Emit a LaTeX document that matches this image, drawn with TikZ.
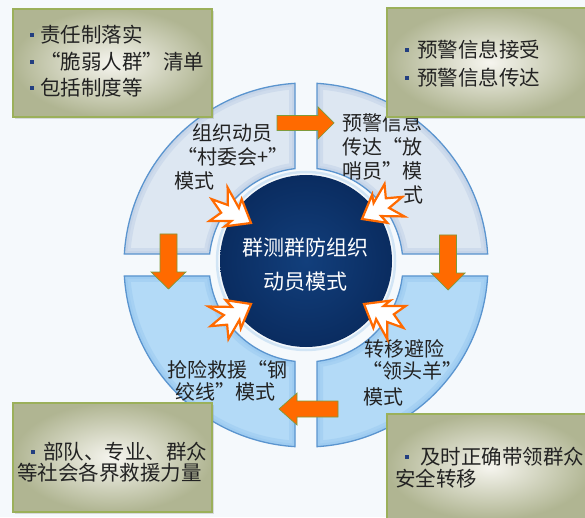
\documentclass[tikz,border=0pt]{standalone}
\usepackage{fontspec}
\setmainfont{Noto Sans CJK SC}
\usetikzlibrary{shadows}
\definecolor{bgc}{HTML}{F5F9FC}
\definecolor{qtop}{HTML}{DDE7F2}
\definecolor{qtoprim}{HTML}{B8CBE4}
\definecolor{qbot}{HTML}{B3DAF7}
\definecolor{qbotrim}{HTML}{93C5EE}
\definecolor{qborder}{HTML}{5B95CF}
\definecolor{navyin}{HTML}{123F7C}
\definecolor{navyout}{HTML}{0A2C60}
\definecolor{glow}{HTML}{A9CDEE}
\definecolor{orangec}{HTML}{FF6A00}
\definecolor{olivec}{HTML}{7F9A3C}
\definecolor{boxborder}{HTML}{9BB05A}
\definecolor{boxin}{HTML}{F6F5EF}
\definecolor{boxout}{HTML}{B0B592}
\definecolor{bulletc}{HTML}{233F80}
\definecolor{txt}{HTML}{222222}
\newcommand\qpath[1]{(#1+3.465:182) arc[start angle=#1+3.465, end angle=#1+86.535, radius=182] -- (#1+83.489:97) arc[start angle=#1+83.489, end angle=#1+6.511, radius=97] -- cycle}
\newcommand\quadrant[3]{%
  \begin{scope}
    \clip \qpath{#1};
    \fill[#2] (-200,-200) rectangle (200,200);
    \draw[#3, line width=12, opacity=0.4] \qpath{#1};
    \draw[#3, line width=6, opacity=0.4] \qpath{#1};
  \end{scope}
  \draw[qborder, line width=1.3] \qpath{#1};}
\newcommand\burst[2]{%
  \begin{scope}[shift={#1}, rotate=#2]
    \filldraw[burststyle] (0,0) -- (-20,16) -- (-18,7) -- (-38,19) -- (-29,4) -- (-46,1) -- (-31,-6) -- (-37,-19) -- (-18,-8) -- (-21,-16) -- cycle;
  \end{scope}}
\begin{document}
\begin{tikzpicture}[x=1pt,y=1pt,
  oarrow/.style={fill=orangec, draw=olivec, line width=0.7},
  burststyle/.style={fill=white, draw=orangec, line width=2.2, line join=miter},
  infobox/.style={draw=boxborder, line width=1.3, inner color=boxin, outer color=boxout, drop shadow={opacity=0.25, shadow xshift=2pt, shadow yshift=-2pt}},
  boxtxt/.style={font=\fontsize{20.5}{24}\selectfont, text=txt, anchor=west, inner sep=0pt},
  qtxt/.style={font=\fontsize{20}{24}\selectfont, text=txt, inner sep=0pt},
  ctxt/.style={font=\fontsize{21}{24}\selectfont, text=white, inner sep=0pt},
  bul/.style={fill=bulletc, minimum size=4pt, inner sep=0pt}]
\useasboundingbox (0,0) rectangle (585,517);
\fill[bgc] (0,0) rectangle (585,517);

% ring quadrants
\begin{scope}[shift={(306,252)}]
  \quadrant{90}{qtop}{qtoprim}
  \quadrant{0}{qtop}{qtoprim}
  \quadrant{180}{qbot}{qbotrim}
  \quadrant{270}{qbot}{qbotrim}
\end{scope}

% central circle
\node[circle, minimum size=178pt, draw=glow, line width=2.5, opacity=0.45] (halo) at (306,256) {};
\shade[inner color=navyin, outer color=navyout] (306,256) circle (86);
\node[ctxt] (c1) at (305,269) {群测群防组织};
\node[ctxt] (c2) at (305,235) {动员模式};

% quadrant texts
\node[qtxt] (t1) at (232,384) {组织动员};
\node[qtxt] (t2) at (233,360) {“村委会+”};
\node[qtxt] (t3) at (194,336) {模式};
\node[qtxt, anchor=west] (r1) at (342,394) {预警信息};
\node[qtxt, anchor=west] (r2) at (342,370) {传达“放};
\node[qtxt, anchor=west] (r3) at (342,346) {哨员”模};
\node[qtxt, anchor=west] (r4) at (403,322) {式};
\node[qtxt, anchor=west] (l1) at (167,147) {抢险救援“钢};
\node[qtxt, anchor=west] (l2) at (175,125) {绞线”模式};
\node[qtxt, anchor=west] (m1) at (364,168) {转移避险};
\node[qtxt] (m2) at (412,146) {“领头羊”};
\node[qtxt, anchor=west] (m3) at (363,120) {模式};

% orange arrows
\filldraw[oarrow] (277,386.5) -- (318,386.5) -- (318,378) -- (334,394) -- (318,410) -- (318,401.5) -- (277,401.5) -- cycle;
\filldraw[oarrow] (160,283) -- (177,283) -- (177,245) -- (186,245) -- (168.5,228) -- (151,245) -- (160,245) -- cycle;
\filldraw[oarrow] (439.5,282) -- (456.5,282) -- (456.5,244) -- (465,244) -- (448,227) -- (431,244) -- (439.5,244) -- cycle;
\filldraw[oarrow] (338,100) -- (297,100) -- (297,92) -- (279,108) -- (297,124) -- (297,116) -- (338,116) -- cycle;

% burst arrows
\burst{(251,294)}{-30}
\burst{(362,298)}{210}
\burst{(251,213)}{30}
\burst{(364,213)}{150}

% info boxes
\node[infobox, minimum width=199pt, minimum height=108pt] (bx1) at (112.5,454) {};
\node[infobox, minimum width=205pt, minimum height=109pt] (bx2) at (489.5,454.5) {};
\node[infobox, minimum width=199pt, minimum height=109pt] (bx3) at (112.5,59.5) {};
\node[infobox, minimum width=205pt, minimum height=106pt] (bx4) at (489.5,50) {};

\node[bul] (p1) at (32,482) {};
\node[bul] (p2) at (32,455) {};
\node[bul] (p3) at (32,429) {};
\node[boxtxt] (a1) at (40,482) {责任制落实};
\node[boxtxt] (a2) at (40,455) {“脆弱人群”清单};
\node[boxtxt] (a3) at (40,429) {包括制度等};

\node[bul] (p4) at (407,467) {};
\node[bul] (p5) at (407,439) {};
\node[boxtxt] (b1) at (417,467) {预警信息接受};
\node[boxtxt] (b2) at (417,439) {预警信息传达};

\node[bul] (p6) at (33,65) {};
\node[boxtxt] (d1) at (43,65) {部队、专业、群众};
\node[boxtxt] (d2) at (17,44) {等社会各界救援力量};

\node[bul] (p7) at (407,60) {};
\node[boxtxt] (e1) at (420,60) {及时正确带领群众};
\node[boxtxt] (e2) at (395,38) {安全转移};
\end{tikzpicture}
\end{document}
